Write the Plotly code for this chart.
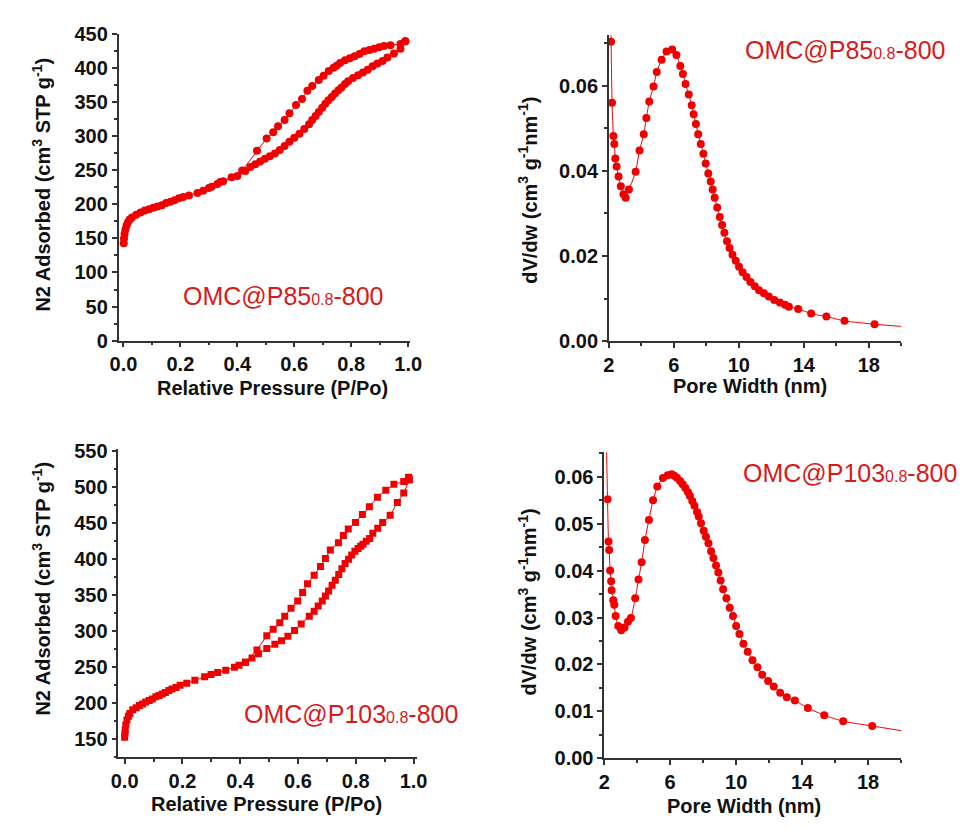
import plotly.graph_objects as go

W, H = 976, 830

# ---------------- data ----------------
# N2 isotherm, OMC@P85 0.8-800
p85_ads_p = [0.001, 0.002, 0.004, 0.007, 0.011, 0.016, 0.022, 0.03, 0.045, 0.06, 0.075, 0.09, 0.105,
             0.12, 0.135, 0.15, 0.165, 0.18, 0.195, 0.21, 0.23, 0.26, 0.28, 0.30, 0.31, 0.33, 0.35,
             0.40, 0.428, 0.446, 0.463, 0.48, 0.497, 0.514, 0.532, 0.549, 0.566, 0.583, 0.600, 0.618,
             0.635, 0.652, 0.663, 0.675, 0.686, 0.698, 0.709, 0.720, 0.732, 0.743, 0.755, 0.766,
             0.778, 0.789, 0.806, 0.824, 0.841, 0.858, 0.875, 0.892, 0.910, 0.927, 0.950, 0.973, 0.99]
p85_ads_v = [143, 150, 157, 163, 169, 174, 178, 181, 185, 188, 191, 193, 195, 197, 199, 202, 204,
             206, 209, 211, 213, 217, 220, 224, 226, 230, 234, 242, 249, 255, 259, 263, 267, 271,
             275, 280, 286, 292, 298, 304, 311, 318, 324, 330, 336, 342, 348, 353, 358, 363, 368,
             372, 377, 381, 386, 390, 394, 398, 403, 407, 411, 416, 422, 429, 440]
p85_des_p = [0.99, 0.973, 0.938, 0.915, 0.898, 0.881, 0.864, 0.846, 0.829, 0.812, 0.795, 0.778,
             0.761, 0.749, 0.738, 0.721, 0.703, 0.686, 0.663, 0.646, 0.627, 0.606, 0.583, 0.566,
             0.543, 0.526, 0.503, 0.469, 0.417, 0.38, 0.34]
p85_des_v = [440, 436, 434, 433, 431, 429, 427, 425, 421, 418, 415, 412, 408, 404, 401, 396, 389,
             383, 374, 367, 355, 346, 334, 324, 315, 306, 297, 279, 250, 240, 233]

# N2 isotherm, OMC@P103 0.8-800
p103_ads_p = [0.0, 0.001, 0.002, 0.004, 0.008, 0.013, 0.018, 0.028, 0.04, 0.051, 0.062, 0.073, 0.085,
              0.096, 0.108, 0.119, 0.13, 0.141, 0.153, 0.164, 0.178, 0.192, 0.215, 0.243, 0.277,
              0.299, 0.322, 0.35, 0.396, 0.418, 0.441, 0.463, 0.492, 0.52, 0.543, 0.565, 0.588,
              0.611, 0.639, 0.656, 0.67, 0.684, 0.695, 0.706, 0.718, 0.729, 0.741, 0.752, 0.763,
              0.775, 0.786, 0.797, 0.808, 0.817, 0.825, 0.836, 0.848, 0.859, 0.876, 0.893, 0.919,
              0.944, 0.966, 0.985]
p103_ads_v = [152, 157, 162, 169, 176, 181, 185, 190, 193, 196, 198, 201, 203, 205, 208, 210, 212,
              214, 217, 219, 221, 224, 227, 231, 236, 239, 242, 245, 252, 256, 262, 268, 275, 281,
              286, 292, 300, 309, 320, 327, 334, 341, 348, 355, 363, 370, 378, 386, 393, 399, 405,
              410, 414, 417, 420, 424, 428, 435, 442, 450, 460, 478, 491, 509]
p103_des_p = [0.985, 0.983, 0.966, 0.932, 0.904, 0.875, 0.847, 0.823, 0.799, 0.774, 0.757, 0.740,
              0.712, 0.695, 0.678, 0.656, 0.633, 0.616, 0.599, 0.576, 0.554, 0.537, 0.514, 0.492,
              0.458, 0.418, 0.38]
p103_des_v = [510, 513, 507, 503, 495, 485, 472, 461, 450, 441, 432, 422, 412, 400, 389, 377, 365,
              353, 341, 331, 320, 311, 302, 293, 273, 256, 249]

# Pore size distributions
p85_w = [2.14, 2.20, 2.28, 2.34, 2.40, 2.48, 2.60, 2.74, 2.90, 3.04, 3.24, 3.65, 3.89, 4.15, 4.31,
         4.49, 4.75, 4.95, 5.25, 5.55, 5.90, 6.16, 6.40, 6.56, 6.72, 6.92, 7.10, 7.22, 7.36, 7.50,
         7.66, 7.82, 7.96, 8.12, 8.27, 8.39, 8.51, 8.67, 8.83, 8.97, 9.11, 9.27, 9.43, 9.61, 9.81,
         10.01, 10.23, 10.47, 10.71, 10.98, 11.24, 11.54, 11.84, 12.18, 12.52, 12.84, 13.08, 13.65,
         14.45, 15.39, 16.50, 18.35]
p85_dv = [0.0703, 0.0560, 0.0482, 0.0463, 0.0429, 0.0410, 0.0387, 0.0364, 0.0345, 0.0337, 0.0356,
          0.0398, 0.0448, 0.0486, 0.0524, 0.0563, 0.0598, 0.0632, 0.0661, 0.0680, 0.0685, 0.0672,
          0.0646, 0.0627, 0.0604, 0.0579, 0.0554, 0.0533, 0.0510, 0.0486, 0.0463, 0.0440, 0.0417,
          0.0394, 0.0375, 0.0356, 0.0337, 0.0314, 0.0292, 0.0273, 0.0255, 0.0235, 0.0219, 0.0203,
          0.0189, 0.0175, 0.0162, 0.0151, 0.0139, 0.0129, 0.0120, 0.0113, 0.0105, 0.0097, 0.0091,
          0.0086, 0.0081, 0.0076, 0.0065, 0.0058, 0.0048, 0.0040]
p85_curve_head = (2.10, 0.078)
p85_curve_tail = (20.0, 0.0035)

p103_w = [2.20, 2.26, 2.30, 2.36, 2.42, 2.45, 2.55, 2.61, 2.69, 2.85, 3.03, 3.23, 3.44, 3.62, 3.88,
          4.08, 4.27, 4.47, 4.71, 4.96, 5.22, 5.56, 5.85, 6.09, 6.25, 6.41, 6.60, 6.76, 6.92, 7.08,
          7.20, 7.34, 7.47, 7.63, 7.73, 7.87, 8.03, 8.17, 8.32, 8.48, 8.62, 8.78, 8.92, 9.06, 9.21,
          9.41, 9.61, 9.81, 10.00, 10.20, 10.44, 10.70, 10.99, 11.29, 11.58, 11.94, 12.28, 12.67,
          13.07, 13.56, 14.35, 15.34, 16.49, 18.25]
p103_dv = [0.0552, 0.0462, 0.0444, 0.0400, 0.0377, 0.0358, 0.0337, 0.0327, 0.0303, 0.0282, 0.0273,
           0.0279, 0.0291, 0.0299, 0.0341, 0.0381, 0.0418, 0.0465, 0.0508, 0.0550, 0.0579, 0.0597,
           0.0603, 0.0605, 0.0602, 0.0598, 0.0591, 0.0584, 0.0576, 0.0567, 0.0559, 0.0548, 0.0538,
           0.0525, 0.0515, 0.0501, 0.0485, 0.0472, 0.0458, 0.0441, 0.0427, 0.0411, 0.0396, 0.0379,
           0.0360, 0.0341, 0.0321, 0.0303, 0.0282, 0.0265, 0.0244, 0.0227, 0.0209, 0.0194, 0.0178,
           0.0165, 0.0153, 0.0140, 0.0130, 0.0123, 0.0107, 0.0092, 0.0079, 0.0069]
p103_curve_head = (2.12, 0.070)
p103_curve_tail = (20.0, 0.0059)

labels = ["OMC@P85", "OMC@P85", "OMC@P103", "OMC@P103"]
label_sub = "0.8"
label_suffix = "-800"

iso_xtitle = "Relative Pressure (P/Po)"
iso_ytitle = "N2 Adsorbed (cm<sup>3</sup> STP g<sup>-1</sup>)"
psd_xtitle = "Pore Width (nm)"
psd_ytitle = "dV/dw (cm<sup>3</sup> g<sup>-1</sup>nm<sup>-1</sup>)"

# ---------------- styling ----------------
RED = "#f00000"
LBL = "#d81a1a"
AX = "#333333"
FONT = "Arial, Liberation Sans, sans-serif"

fig = go.Figure()


def add_series(x, y, axes, symbol, size):
    xa, ya = axes
    fig.add_trace(go.Scatter(x=x, y=y, mode="lines+markers", xaxis=xa, yaxis=ya,
                             line=dict(color=RED, width=1),
                             marker=dict(symbol=symbol, size=size, color=RED, opacity=1,
                                         line=dict(width=0)),
                             showlegend=False, cliponaxis=True))


def add_psd(w, dv, head, tail, axes):
    xa, ya = axes
    xs = [head[0]] + list(w) + [tail[0]]
    ys = [head[1]] + list(dv) + [tail[1]]
    sizes = [0] + [8] * len(w) + [0]
    fig.add_trace(go.Scatter(x=xs, y=ys, mode="lines+markers", xaxis=xa, yaxis=ya,
                             line=dict(color=RED, width=1, shape="spline", smoothing=0.6),
                             marker=dict(symbol="circle", size=sizes, color=RED, opacity=1,
                                         line=dict(width=0)),
                             showlegend=False, cliponaxis=True))


add_series(p85_ads_p, p85_ads_v, ("x", "y"), "circle", 8)
add_series(p85_des_p, p85_des_v, ("x", "y"), "circle", 8)
add_psd(p85_w, p85_dv, p85_curve_head, p85_curve_tail, ("x2", "y2"))
add_series(p103_ads_p, p103_ads_v, ("x3", "y3"), "square", 7)
add_series(p103_des_p, p103_des_v, ("x3", "y3"), "square", 7)
add_psd(p103_w, p103_dv, p103_curve_head, p103_curve_tail, ("x4", "y4"))


def px(xp):
    return xp / W


def py(yp):
    return 1 - yp / H


tickfont = dict(family=FONT, size=20, color="#111111", weight="bold")


def axis_common():
    return dict(showline=True, linecolor=AX, linewidth=1.5, mirror=False,
                ticks="outside", ticklen=5, tickwidth=1.5, tickcolor=AX,
                showgrid=False, zeroline=False, tickfont=tickfont)


layout_axes = {}
# panel 1
layout_axes["xaxis"] = dict(axis_common(), domain=[px(112), px(410)], anchor="y",
                            range=[-0.017, 1.007], tick0=0, dtick=0.2, tickformat=".1f",
                            minor=dict(ticks="outside", ticklen=3, dtick=0.1, tickcolor=AX))
layout_axes["yaxis"] = dict(axis_common(), domain=[py(338.5), py(24)], anchor="x",
                            range=[0, 450], tick0=0, dtick=50,
                            minor=dict(ticks="outside", ticklen=3, dtick=25, tickcolor=AX))
# panel 2
layout_axes["xaxis2"] = dict(axis_common(), domain=[px(613), px(912)], anchor="y2",
                             range=[2, 20], tick0=2, dtick=4,
                             minor=dict(ticks="outside", ticklen=3, tick0=2, dtick=2, tickcolor=AX))
layout_axes["yaxis2"] = dict(axis_common(), domain=[py(339.3), py(25)], anchor="x2",
                             range=[0, 0.0718], tick0=0, dtick=0.02, tickformat=".2f",
                             minor=dict(ticks="outside", ticklen=3, dtick=0.01, tickcolor=AX))
# panel 3
layout_axes["xaxis3"] = dict(axis_common(), domain=[px(111.7), px(416.7)], anchor="y3",
                             range=[-0.022, 1.011], tick0=0, dtick=0.2, tickformat=".1f",
                             minor=dict(ticks="outside", ticklen=3, dtick=0.1, tickcolor=AX))
layout_axes["yaxis3"] = dict(axis_common(), domain=[py(766.7), py(450)], anchor="x3",
                             range=[124, 552], tick0=150, dtick=50,
                             minor=dict(ticks="outside", ticklen=3, tick0=125, dtick=25, tickcolor=AX))
# panel 4
layout_axes["xaxis4"] = dict(axis_common(), domain=[px(608.3), px(911.7)], anchor="y4",
                             range=[2, 20], tick0=2, dtick=4,
                             minor=dict(ticks="outside", ticklen=3, tick0=2, dtick=2, tickcolor=AX))
layout_axes["yaxis4"] = dict(axis_common(), domain=[py(767.7), py(453.3)], anchor="x4",
                             range=[0, 0.0652], tick0=0, dtick=0.01, tickformat=".2f",
                             minor=dict(ticks="outside", ticklen=3, dtick=0.005, tickcolor=AX))

titlefont = dict(family=FONT, size=20, color="#111111", weight="bold")
annotations = []


def add_title(text, xp, yp, angle=0):
    annotations.append(dict(text=text, x=px(xp), y=py(yp), xref="paper", yref="paper",
                            xanchor="center", yanchor="middle", showarrow=False,
                            textangle=angle, font=titlefont))


add_title(iso_xtitle, 269, 387)
add_title(iso_ytitle, 33, 178, -90)
add_title(psd_xtitle, 757, 385)
add_title(psd_ytitle, 530, 184, -90)
add_title(iso_xtitle, 263, 815)
add_title(iso_ytitle, 33, 593, -90)
add_title(psd_xtitle, 751, 817)
add_title(psd_ytitle, 530, 607, -90)

label_pos = [(280, 293), (854, 40), (350, 722), (859, 475)]
for name, (xp, yp) in zip(labels, label_pos):
    txt = name + "<span style='font-size:16px'>" + label_sub + "</span>" + label_suffix
    annotations.append(dict(text=txt, x=px(xp), y=py(yp), xref="paper", yref="paper",
                            xanchor="center", yanchor="middle", showarrow=False,
                            font=dict(family=FONT, size=25, color=LBL)))

fig.update_layout(width=W, height=H, autosize=False,
                  margin=dict(l=0, r=0, t=0, b=0),
                  paper_bgcolor="white", plot_bgcolor="white",
                  font=dict(family=FONT), annotations=annotations, **layout_axes)

fig.write_html("out.html")
